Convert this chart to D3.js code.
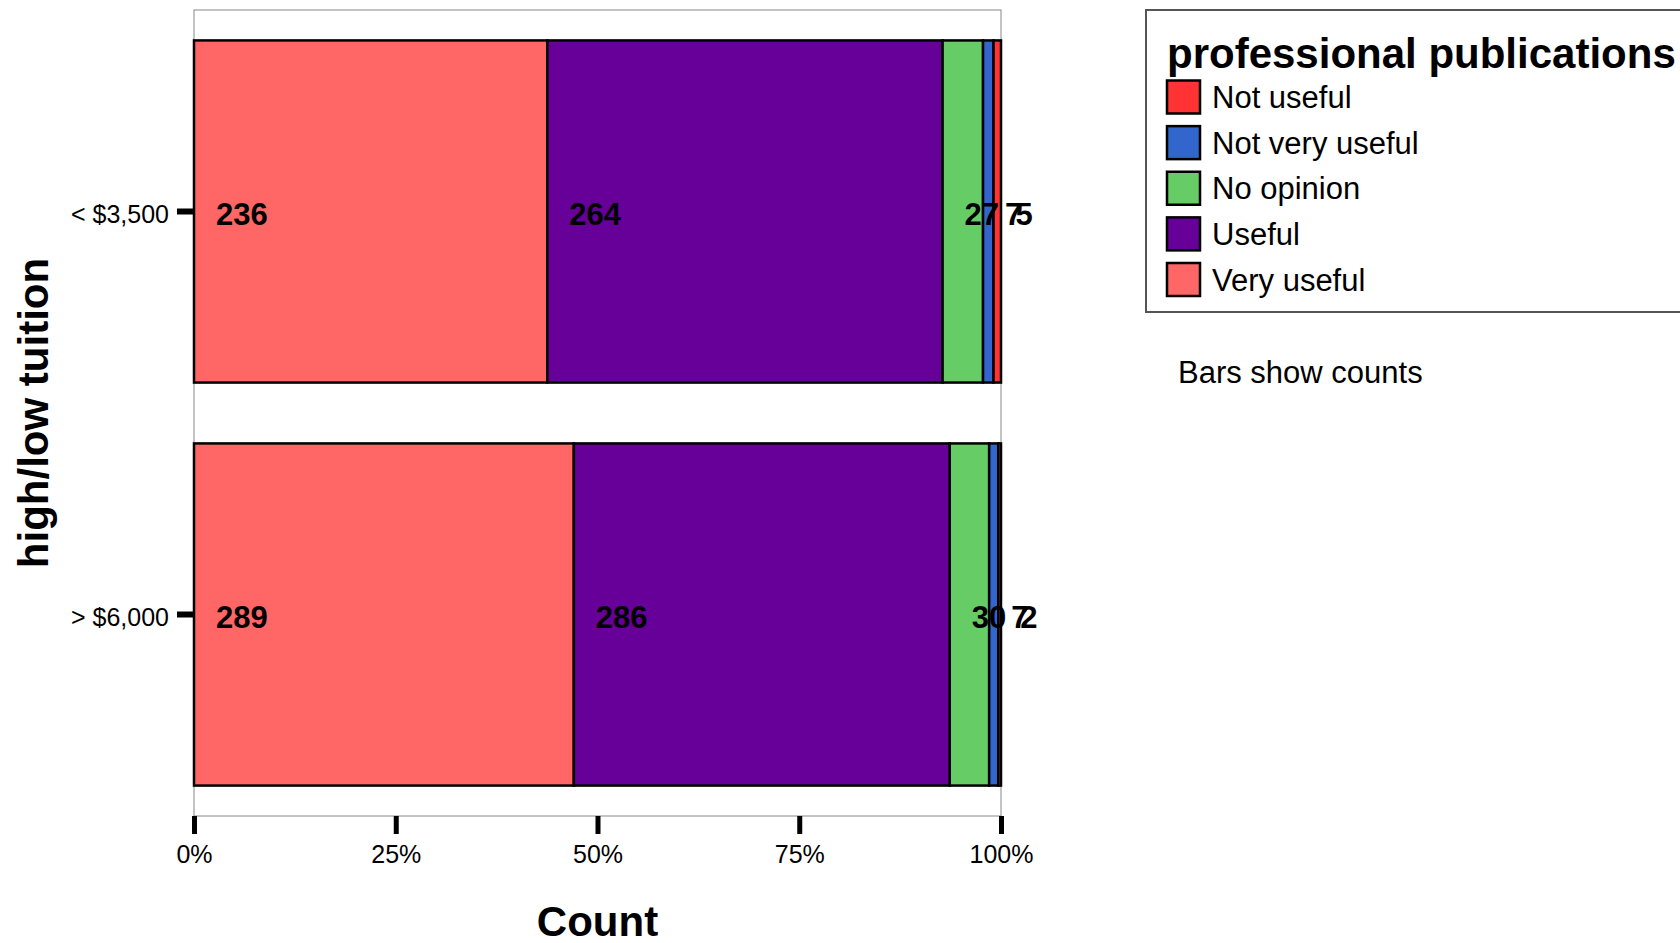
<!DOCTYPE html>
<html>
<head>
<meta charset="utf-8">
<script src="https://cdn.jsdelivr.net/npm/d3@7"></script>
<style>
  html, body { margin: 0; padding: 0; background: #fff; }
  svg { display: block; font-family: "Liberation Sans", Arial, sans-serif; }
</style>
</head>
<body>
<svg id="chart" width="1680" height="943"></svg>
<script>
// ---- data ----
const groups = ["< $3,500", "> $6,000"];
const seriesNames = ["Very useful", "Useful", "No opinion", "Not very useful", "Not useful"];
const veryUseful   = [236, 289];
const useful       = [264, 286];
const noOpinion    = [27, 30];
const notVeryUseful = [7, 7];
const notUseful    = [5, 2];
const xTickValues = [0, 0.25, 0.5, 0.75, 1];
const legendOrder = ["Not useful", "Not very useful", "No opinion", "Useful", "Very useful"];
const colors = {
  "Not useful": "#FF3333",
  "Not very useful": "#3366CC",
  "No opinion": "#66CC66",
  "Useful": "#660099",
  "Very useful": "#FF6666"
};

const seriesValues = [veryUseful, useful, noOpinion, notVeryUseful, notUseful];
const rows = groups.map((g, i) => {
  const r = { group: g };
  seriesNames.forEach((s, j) => r[s] = seriesValues[j][i]);
  return r;
});

const svg = d3.select("#chart");
const plot = { left: 194, right: 1001, top: 10, bottom: 816 };

const x = d3.scaleLinear().domain([0, 1]).range([plot.left, plot.right]);
const y = d3.scaleBand().domain(groups).range([plot.top, plot.bottom])
  .paddingInner(0.151).paddingOuter(0.0755);

const stacked = d3.stack().keys(seriesNames).offset(d3.stackOffsetExpand)(rows);

// plot frame
svg.append("rect")
  .attr("x", plot.left).attr("y", plot.top)
  .attr("width", plot.right - plot.left).attr("height", plot.bottom - plot.top)
  .attr("fill", "none").attr("stroke", "#888").attr("stroke-width", 1);

// bars
const layer = svg.append("g").selectAll("g").data(stacked).join("g")
  .attr("fill", d => colors[d.key]);
layer.selectAll("rect").data(d => d.map(v => ({ v, key: d.key }))).join("rect")
  .attr("x", d => x(d.v[0]))
  .attr("width", d => x(d.v[1]) - x(d.v[0]))
  .attr("y", d => y(d.v.data.group))
  .attr("height", y.bandwidth())
  .attr("stroke", "#000").attr("stroke-width", 2.5);

// value labels
const labelG = svg.append("g");
stacked.forEach(s => {
  s.forEach(v => {
    labelG.append("text")
      .attr("x", x(v[0]) + 22)
      .attr("y", y(v.data.group) + y.bandwidth() / 2 + 3)
      .attr("dominant-baseline", "central")
      .attr("font-size", 31).attr("font-weight", "bold")
      .attr("fill", "#000")
      .text(v.data[s.key]);
  });
});

// x axis
const xAxis = svg.append("g")
  .attr("transform", `translate(0,${plot.bottom})`)
  .call(d3.axisBottom(x).tickValues(xTickValues).tickFormat(d3.format(".0%")).tickSize(18).tickPadding(11));
xAxis.select(".domain").remove();
xAxis.selectAll(".tick line").attr("stroke", "#000").attr("stroke-width", 5);
xAxis.selectAll(".tick text").attr("font-size", 25).attr("fill", "#000")
  .attr("font-family", "'Liberation Sans', Arial, sans-serif");

// y axis
const yAxis = svg.append("g")
  .attr("transform", `translate(${plot.left},0)`)
  .call(d3.axisLeft(y).tickSize(17).tickPadding(8));
yAxis.select(".domain").remove();
yAxis.selectAll(".tick line").attr("stroke", "#000").attr("stroke-width", 6);
yAxis.selectAll(".tick text").attr("font-size", 25).attr("fill", "#000")
  .attr("dy", "0.45em")
  .attr("font-family", "'Liberation Sans', Arial, sans-serif");

// axis titles
svg.append("text")
  .attr("x", (plot.left + plot.right) / 2).attr("y", 921)
  .attr("text-anchor", "middle").attr("dominant-baseline", "central")
  .attr("font-size", 42).attr("font-weight", "bold").text("Count");

svg.append("text")
  .attr("transform", `translate(33,${(plot.top + plot.bottom) / 2}) rotate(-90)`)
  .attr("text-anchor", "middle").attr("dominant-baseline", "central")
  .attr("font-size", 42).attr("font-weight", "bold").text("high/low tuition");

// legend
const lg = svg.append("g");
lg.append("rect")
  .attr("x", 1146).attr("y", 10).attr("width", 600).attr("height", 302)
  .attr("fill", "#fff").attr("stroke", "#555").attr("stroke-width", 2);
lg.append("text")
  .attr("x", 1167).attr("y", 68)
  .attr("font-size", 42).attr("font-weight", "bold").text("professional publications");

const ly = d3.scalePoint().domain(legendOrder).range([96.5, 279]);
const items = lg.selectAll("g.item").data(legendOrder).join("g").attr("class", "item")
  .attr("transform", d => `translate(1167,${ly(d)})`);
items.append("rect")
  .attr("x", 0).attr("y", -16).attr("width", 33).attr("height", 33)
  .attr("fill", d => colors[d]).attr("stroke", "#000").attr("stroke-width", 2.5);
items.append("text")
  .attr("x", 45).attr("y", 1).attr("dominant-baseline", "central")
  .attr("font-size", 31).text(d => d);

svg.append("text")
  .attr("x", 1178).attr("y", 372).attr("dominant-baseline", "central")
  .attr("font-size", 31).text("Bars show counts");
</script>
</body>
</html>
